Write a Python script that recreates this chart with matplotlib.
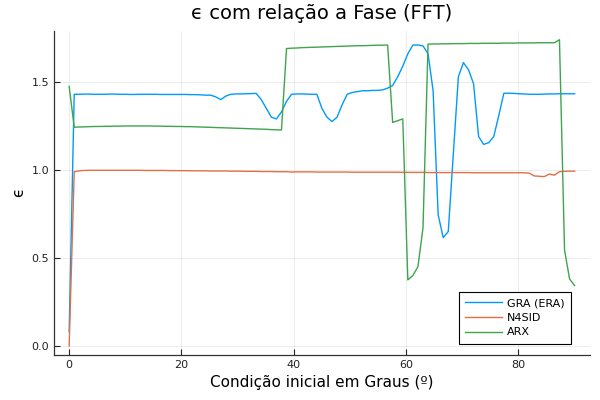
import numpy as np
import matplotlib
matplotlib.use("Agg")
import matplotlib.pyplot as plt

# condicao inicial (graus), 101 pontos de 0 a 90
graus = np.linspace(0, 90, 101)

gra_era = [
    0.08, 1.43, 1.43, 1.431, 1.431, 1.43, 1.43, 1.43, 1.431, 1.431,
    1.43, 1.43, 1.429, 1.429, 1.43, 1.43, 1.43, 1.43, 1.429, 1.429,
    1.429, 1.429, 1.429, 1.429, 1.428, 1.428, 1.427, 1.425, 1.425, 1.415,
    1.40, 1.42, 1.43, 1.432, 1.432, 1.433, 1.434, 1.435, 1.40, 1.35,
    1.30, 1.29, 1.33, 1.39, 1.43, 1.432, 1.432, 1.431, 1.43, 1.43,
    1.35, 1.30, 1.275, 1.30, 1.37, 1.43, 1.44, 1.445, 1.45, 1.45,
    1.452, 1.452, 1.455, 1.465, 1.48, 1.53, 1.59, 1.66, 1.71, 1.71,
    1.705, 1.66, 1.45, 0.745, 0.615, 0.65, 1.09, 1.53, 1.61, 1.57,
    1.49, 1.19, 1.145, 1.155, 1.19, 1.31, 1.436, 1.436, 1.435, 1.433,
    1.432, 1.43, 1.43, 1.43, 1.431, 1.432, 1.432, 1.433, 1.433, 1.433,
    1.433,
]

n4sid = [
    0.0, 0.99, 0.995, 0.997, 0.998, 0.998, 0.998, 0.998, 0.998, 0.998,
    0.998, 0.998, 0.998, 0.998, 0.998, 0.997, 0.997, 0.997, 0.997, 0.997,
    0.996, 0.996, 0.996, 0.996, 0.995, 0.995, 0.995, 0.995, 0.994, 0.994,
    0.994, 0.994, 0.993, 0.993, 0.993, 0.992, 0.992, 0.992, 0.991, 0.991,
    0.991, 0.99, 0.99, 0.99, 0.988, 0.989, 0.989, 0.989, 0.989, 0.988,
    0.988, 0.988, 0.988, 0.988, 0.988, 0.988, 0.987, 0.987, 0.987, 0.987,
    0.987, 0.987, 0.987, 0.987, 0.987, 0.987, 0.986, 0.986, 0.986, 0.986,
    0.986, 0.985, 0.985, 0.985, 0.985, 0.985, 0.985, 0.985, 0.985, 0.985,
    0.984, 0.984, 0.984, 0.984, 0.984, 0.984, 0.984, 0.984, 0.984, 0.984,
    0.984, 0.982, 0.966, 0.964, 0.962, 0.977, 0.970, 0.99, 0.992, 0.993,
    0.993,
]

arx = [
    1.475, 1.243, 1.244, 1.245, 1.246, 1.247, 1.247, 1.248, 1.248, 1.249,
    1.249, 1.25, 1.25, 1.25, 1.25, 1.25, 1.25, 1.249, 1.249, 1.248,
    1.248, 1.247, 1.247, 1.246, 1.246, 1.245, 1.244, 1.243, 1.242, 1.241,
    1.24, 1.239, 1.238, 1.237, 1.236, 1.235, 1.234, 1.233, 1.232, 1.231,
    1.229, 1.228, 1.227, 1.69, 1.692, 1.693, 1.695, 1.696, 1.697, 1.698,
    1.699, 1.70, 1.701, 1.702, 1.703, 1.704, 1.705, 1.706, 1.706, 1.707,
    1.708, 1.709, 1.709, 1.71, 1.27, 1.28, 1.29, 0.375, 0.40, 0.45,
    0.67, 1.715, 1.716, 1.716, 1.717, 1.717, 1.718, 1.718, 1.718, 1.719,
    1.719, 1.719, 1.72, 1.72, 1.72, 1.72, 1.721, 1.721, 1.721, 1.722,
    1.722, 1.722, 1.722, 1.723, 1.723, 1.723, 1.723, 1.74, 0.545, 0.38,
    0.343,
]

series = [("GRA (ERA)", gra_era, "#009AFA"),
          ("N4SID", n4sid, "#E36F47"),
          ("ARX", arx, "#3EA44E")]

fig = plt.figure(figsize=(6, 4), dpi=100)
ax = fig.add_axes([0.09, 0.1125, 0.893, 0.811])

for nome, y, cor in series:
    ax.plot(graus, y, color=cor, lw=1.0, label=nome)

ax.set_xlim(-2.7, 92.7)
ax.set_ylim(-0.052, 1.792)
ax.set_xticks([0, 20, 40, 60, 80])
ax.set_yticks([0.0, 0.5, 1.0, 1.5])
ax.set_yticklabels(["0.0", "0.5", "1.0", "1.5"])

ax.grid(True, color="black", alpha=0.1, lw=0.5)
for s in ["top", "right"]:
    ax.spines[s].set_visible(False)
for s in ["left", "bottom"]:
    ax.spines[s].set_linewidth(0.9)
    ax.spines[s].set_color("#333333")
ax.tick_params(direction="in", length=4, width=0.8, labelsize=8, colors="#222222")

ax.set_title("ϵ com relação a Fase (FFT)", fontsize=14, pad=8)
ax.set_xlabel("Condição inicial em Graus (º)", fontsize=11)
ax.set_ylabel("ϵ", fontsize=11)

leg = ax.legend(loc="lower right", fontsize=8, fancybox=False, framealpha=1,
                edgecolor="black", borderpad=0.55, handlelength=3.3,
                handletextpad=0.5, labelspacing=0.42,
                bbox_to_anchor=(0.975, 0.018))
leg.get_frame().set_linewidth(0.8)

fig.savefig("out.png", dpi=100)
